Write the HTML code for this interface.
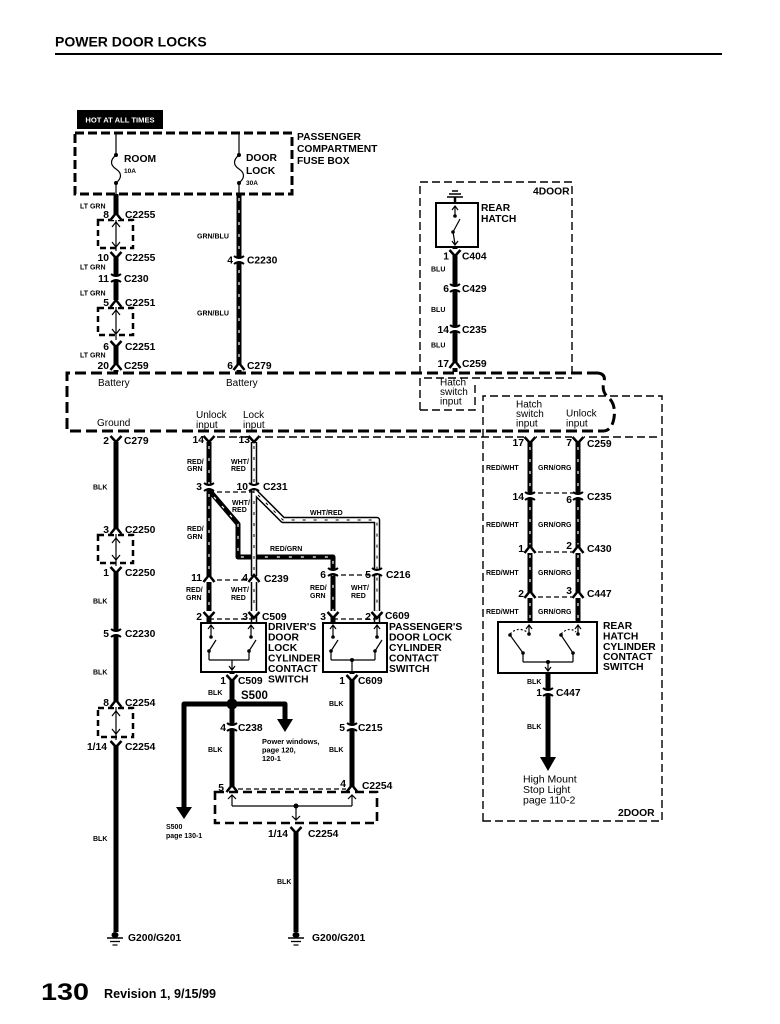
<!DOCTYPE html>
<html><head><meta charset="utf-8">
<style>
html,body{margin:0;padding:0;background:#fff;}
svg{display:block;}
text{font-family:"Liberation Sans",Arial,sans-serif;fill:#000;}
.c{font-size:10.3px;font-weight:bold;}
.wl{font-size:7px;font-weight:bold;}
.n{font-size:10px;}
.w{stroke:#000;stroke-width:5;fill:none;stroke-linejoin:round;}
.wt{stroke:#fff;stroke-width:1.2;stroke-dasharray:3 9;fill:none;}
.wo{stroke:#000;stroke-width:6.5;fill:none;stroke-linejoin:round;}
.wi{stroke:#fff;stroke-width:3.5;fill:none;stroke-linejoin:round;}
.wd{stroke:#000;stroke-width:1;stroke-dasharray:3 8;fill:none;}
.th{stroke:#000;stroke-width:1.2;fill:none;}
.td{stroke:#000;stroke-width:1.4;stroke-dasharray:8 4;fill:none;}
.kd{stroke:#000;stroke-width:3;stroke-dasharray:11 5;fill:none;}
.sd{stroke:#000;stroke-width:2.5;stroke-dasharray:6 4;fill:none;}
.bx{stroke:#000;stroke-width:2;fill:none;}
</style></head>
<body>
<svg width="780" height="1024" viewBox="0 0 780 1024" xmlns="http://www.w3.org/2000/svg">
<defs>
<g id="F"><rect x="-6" y="-1" width="12" height="6" fill="#fff"/><path d="M-5.5,5 L0,-2 L5.5,5" stroke="#000" stroke-width="2.5" fill="none"/></g>
<g id="M"><rect x="-6" y="-6" width="12" height="5" fill="#fff"/><path d="M-5.5,-5 L0,1 L5.5,-5" stroke="#000" stroke-width="2.5" fill="none"/></g>
<g id="C"><rect x="-6" y="-2" width="12" height="4" fill="#fff"/><path d="M-5,-4 Q0,0 5,-4 M-5,4 Q0,0 5,4" stroke="#000" stroke-width="2" fill="none"/></g>
<g id="G"><ellipse cx="0" cy="-2" rx="3.5" ry="3" fill="#000"/><line x1="-8" y1="1" x2="8" y2="1" stroke="#000" stroke-width="1.5"/><line x1="-5" y1="4.5" x2="5" y2="4.5" stroke="#000" stroke-width="1.3"/><line x1="-2.5" y1="8" x2="2.5" y2="8" stroke="#000" stroke-width="1.2"/></g>
</defs>

<!-- header -->
<text x="55" y="46.5" style="font-size:14px;font-weight:bold">POWER DOOR LOCKS</text>
<line x1="55" y1="54" x2="722" y2="54" stroke="#000" stroke-width="2"/>

<!-- HOT AT ALL TIMES -->
<rect x="77" y="110" width="86" height="19" fill="#000"/>
<text x="120" y="122.5" text-anchor="middle" style="font-size:7.6px;font-weight:bold;fill:#fff">HOT AT ALL TIMES</text>

<!-- fuse box -->
<path class="kd" d="M75,133 H292 V194 H75 Z" style="stroke-dasharray:9 4"/>
<line class="th" x1="116" y1="133" x2="116" y2="155"/>
<circle cx="116" cy="155" r="2"/>
<path class="th" d="M116,155 C110,160 110,165 116,169 C122,173 122,178 116,183"/>
<circle cx="116" cy="183" r="2"/>
<line class="th" x1="116" y1="183" x2="116" y2="194"/>
<line class="th" x1="239" y1="133" x2="239" y2="155"/>
<circle cx="239" cy="155" r="2"/>
<path class="th" d="M239,155 C233,160 233,165 239,169 C245,173 245,178 239,183"/>
<circle cx="239" cy="183" r="2"/>
<line class="th" x1="239" y1="183" x2="239" y2="194"/>
<text class="c" x="124" y="162">ROOM</text>
<text x="124" y="173" style="font-size:6.5px;font-weight:bold">10A</text>
<text class="c" x="246" y="161">DOOR</text>
<text class="c" x="246" y="174">LOCK</text>
<text x="246" y="185" style="font-size:6.5px;font-weight:bold">30A</text>
<text class="c" x="297" y="140">PASSENGER</text>
<text class="c" x="297" y="152">COMPARTMENT</text>
<text class="c" x="297" y="164">FUSE BOX</text>

<!-- module dashed box -->
<path class="kd" d="M598,373 H67 V431 H604"/>
<path class="kd" d="M598,373 Q606,374 604,382 Q601,392 609,398 Q616,405 614,418 Q612,430 604,431"/>
<text class="n" x="98" y="386">Battery</text>
<text class="n" x="226" y="386">Battery</text>
<text class="n" x="97" y="426">Ground</text>
<text class="n" x="196" y="418">Unlock</text>
<text class="n" x="196" y="428">input</text>
<text class="n" x="243" y="418">Lock</text>
<text class="n" x="243" y="428">input</text>
<path class="td" d="M217,437 H660"/>

<!-- 4DOOR box -->
<path class="td" d="M420,410 V182 H572 V372"/>
<path class="td" d="M420,410 H475 V381"/>
<path class="td" d="M424,378 H572"/>
<text class="c" x="533" y="194.5">4DOOR</text>
<text class="n" x="440" y="385.5">Hatch</text>
<text class="n" x="440" y="395">switch</text>
<text class="n" x="440" y="404.5">input</text>

<!-- 2DOOR box -->
<path class="td" d="M483,821 V396 H662 V821 Z"/>
<text class="n" x="516" y="407.5">Hatch</text>
<text class="n" x="516" y="417">switch</text>
<text class="n" x="516" y="426.5">input</text>
<text class="n" x="566" y="416.5">Unlock</text>
<text class="n" x="566" y="426.5">input</text>
<text class="c" x="618" y="816">2DOOR</text>

<!-- LT GRN column -->
<rect class="sd" x="98" y="220" width="35" height="28"/>
<rect class="sd" x="98" y="308" width="35" height="27"/>
<line class="w" x1="116" y1="194" x2="116" y2="214"/>
<line class="th" x1="116" y1="216" x2="116" y2="253"/>
<path class="th" d="M112,227 L116,222 L120,227 M112,242 L116,247 L120,242"/>
<line class="w" x1="116" y1="257" x2="116" y2="300"/>
<line class="th" x1="116" y1="304" x2="116" y2="342"/>
<path class="th" d="M112,315 L116,310 L120,315 M112,329 L116,334 L120,329"/>
<line class="w" x1="116" y1="345" x2="116" y2="372"/>
<use href="#F" x="116" y="215"/>
<use href="#M" x="116" y="257"/>
<use href="#C" x="116" y="278"/>
<use href="#F" x="116" y="302"/>
<use href="#M" x="116" y="346"/>
<use href="#F" x="116" y="365"/>
<text class="wl" x="80" y="208.5">LT GRN</text>
<text class="c" x="109" y="218" text-anchor="end">8</text>
<text class="c" x="125" y="218">C2255</text>
<text class="c" x="109" y="261" text-anchor="end">10</text>
<text class="c" x="125" y="261">C2255</text>
<text class="wl" x="80" y="269.5">LT GRN</text>
<text class="c" x="109" y="282" text-anchor="end">11</text>
<text class="c" x="124" y="282">C230</text>
<text class="wl" x="80" y="295.5">LT GRN</text>
<text class="c" x="109" y="306" text-anchor="end">5</text>
<text class="c" x="125" y="306">C2251</text>
<text class="c" x="109" y="350" text-anchor="end">6</text>
<text class="c" x="125" y="350">C2251</text>
<text class="wl" x="80" y="357.5">LT GRN</text>
<text class="c" x="109" y="369" text-anchor="end">20</text>
<text class="c" x="124" y="369">C259</text>

<!-- GRN/BLU -->
<line class="w" x1="239" y1="194" x2="239" y2="372"/>
<line class="wt" x1="239" y1="198" x2="239" y2="360"/>
<use href="#C" x="239" y="260"/>
<use href="#F" x="239" y="365"/>
<text class="wl" x="197" y="238.7">GRN/BLU</text>
<text class="wl" x="197" y="315.7">GRN/BLU</text>
<text class="c" x="233" y="263.7" text-anchor="end">4</text>
<text class="c" x="247" y="263.7">C2230</text>
<text class="c" x="233" y="369" text-anchor="end">6</text>
<text class="c" x="247" y="369">C279</text>

<!-- REAR HATCH (4door) -->
<path d="M452,191 H458 M449,194 H461 M447,197 H463" stroke="#000" stroke-width="1.4"/>
<line x1="455" y1="197" x2="455" y2="203" stroke="#000" stroke-width="2.5"/>
<rect class="bx" x="436" y="203" width="42" height="44"/>
<path class="th" d="M452,210 L455,206 L458,210 M455,206 V216 M453,232 L460,219 M453,232 L455,244 M452,241 L455,245 L458,241"/>
<circle cx="455" cy="216" r="1.8"/>
<circle cx="453" cy="232" r="1.8"/>
<text class="c" x="481" y="211">REAR</text>
<text class="c" x="481" y="222">HATCH</text>
<line class="w" x1="455" y1="247" x2="455" y2="372"/>
<use href="#M" x="455" y="255"/>
<use href="#C" x="455" y="288"/>
<use href="#C" x="455" y="329"/>
<use href="#F" x="455" y="363"/>
<text class="c" x="449" y="259.5" text-anchor="end">1</text>
<text class="c" x="462" y="259.5">C404</text>
<text class="wl" x="431" y="271.5">BLU</text>
<text class="c" x="449" y="292" text-anchor="end">6</text>
<text class="c" x="462" y="292">C429</text>
<text class="wl" x="431" y="312">BLU</text>
<text class="c" x="449" y="333" text-anchor="end">14</text>
<text class="c" x="462" y="333">C235</text>
<text class="wl" x="431" y="347.5">BLU</text>
<text class="c" x="449" y="367" text-anchor="end">17</text>
<text class="c" x="462" y="367">C259</text>

<!-- Ground column BLK -->
<rect class="sd" x="98" y="535" width="35" height="28"/>
<rect class="sd" x="98" y="708" width="35" height="29"/>
<line class="w" x1="116" y1="442" x2="116" y2="528"/>
<line class="th" x1="116" y1="531" x2="116" y2="568"/>
<path class="th" d="M112,543 L116,538 L120,543 M112,555 L116,560 L120,555"/>
<line class="w" x1="116" y1="572" x2="116" y2="701"/>
<line class="th" x1="116" y1="704" x2="116" y2="742"/>
<path class="th" d="M112,716 L116,711 L120,716 M112,729 L116,734 L120,729"/>
<line class="w" x1="116" y1="745" x2="116" y2="932"/>
<use href="#M" x="116" y="441"/>
<use href="#F" x="116" y="529"/>
<use href="#M" x="116" y="572"/>
<use href="#C" x="116" y="633"/>
<use href="#F" x="116" y="702"/>
<use href="#M" x="116" y="746"/>
<use href="#G" x="115" y="937"/>
<text class="c" x="109" y="444" text-anchor="end">2</text>
<text class="c" x="124" y="444">C279</text>
<text class="wl" x="93" y="489.5">BLK</text>
<text class="c" x="109" y="533" text-anchor="end">3</text>
<text class="c" x="125" y="533">C2250</text>
<text class="c" x="109" y="576" text-anchor="end">1</text>
<text class="c" x="125" y="576">C2250</text>
<text class="wl" x="93" y="603.5">BLK</text>
<text class="c" x="109" y="637" text-anchor="end">5</text>
<text class="c" x="125" y="637">C2230</text>
<text class="wl" x="93" y="674.5">BLK</text>
<text class="c" x="109" y="706" text-anchor="end">8</text>
<text class="c" x="125" y="706">C2254</text>
<text class="c" x="107" y="750" text-anchor="end">1/14</text>
<text class="c" x="125" y="750">C2254</text>
<text class="wl" x="93" y="841">BLK</text>
<text class="c" x="128" y="941">G200/G201</text>

<!-- RED/GRN -->
<path class="w" d="M209,442 V623"/>
<path class="w" d="M209,490 L238,524 V557 H333 V623"/>
<path class="wt" d="M209,446 V612"/>
<path class="wt" d="M214,497 L238,524 V557 H333 V612"/>
<!-- WHT/RED -->
<path class="wo" d="M254,442 V623"/>
<path class="wo" d="M254,491 L283,520 H377 V623"/>
<path class="wi" d="M254,443 V623"/>
<path class="wi" d="M254,491 L283,520 H377 V623"/>
<path class="wd" d="M254,446 V612"/>
<path class="wd" d="M258,495 L283,520 H377 V612"/>
<!-- dashed connector ties -->
<path class="th" style="stroke-dasharray:5 3" d="M209,492 H254 M209,580 H254 M333,575 H377 M209,619 H254 M333,619 H377"/>
<use href="#M" x="209" y="441"/>
<use href="#M" x="254" y="441"/>
<use href="#C" x="209" y="487"/>
<use href="#C" x="254" y="487"/>
<use href="#F" x="209" y="577"/>
<use href="#F" x="254" y="577"/>
<use href="#C" x="333" y="572"/>
<use href="#C" x="377" y="572"/>
<use href="#M" x="209" y="617"/>
<use href="#M" x="254" y="617"/>
<use href="#M" x="333" y="617"/>
<use href="#M" x="377" y="617"/>
<text class="c" x="204" y="443" text-anchor="end">14</text>
<text class="c" x="250" y="443" text-anchor="end">13</text>
<text class="wl" x="187" y="464">RED/</text>
<text class="wl" x="187" y="471">GRN</text>
<text class="wl" x="231" y="464">WHT/</text>
<text class="wl" x="231" y="471">RED</text>
<text class="c" x="202" y="490" text-anchor="end">3</text>
<text class="c" x="248" y="490" text-anchor="end">10</text>
<text class="c" x="263" y="490">C231</text>
<text class="wl" x="232" y="505">WHT/</text>
<text class="wl" x="232" y="512">RED</text>
<text class="wl" x="187" y="531">RED/</text>
<text class="wl" x="187" y="539">GRN</text>
<text class="wl" x="310" y="515">WHT/RED</text>
<text class="wl" x="270" y="551">RED/GRN</text>
<text class="c" x="202" y="581" text-anchor="end">11</text>
<text class="c" x="248" y="581" text-anchor="end">4</text>
<text class="c" x="264" y="582">C239</text>
<text class="c" x="326" y="578" text-anchor="end">6</text>
<text class="c" x="371" y="578" text-anchor="end">5</text>
<text class="c" x="386" y="578">C216</text>
<text class="wl" x="186" y="592">RED/</text>
<text class="wl" x="186" y="600">GRN</text>
<text class="wl" x="231" y="592">WHT/</text>
<text class="wl" x="231" y="600">RED</text>
<text class="wl" x="310" y="590">RED/</text>
<text class="wl" x="310" y="598">GRN</text>
<text class="wl" x="351" y="590">WHT/</text>
<text class="wl" x="351" y="598">RED</text>
<text class="c" x="202" y="620" text-anchor="end">2</text>
<text class="c" x="248" y="620" text-anchor="end">3</text>
<text class="c" x="262" y="620">C509</text>
<text class="c" x="326" y="620" text-anchor="end">3</text>
<text class="c" x="371" y="620" text-anchor="end">2</text>
<text class="c" x="385" y="619">C609</text>

<!-- driver's switch -->
<rect class="bx" x="201" y="623" width="65" height="49"/>
<path class="th" d="M208,629 L211,625 L214,629 M211,625 V637 M209,651 L216,640 M209,651 V660 M248,629 L251,625 L254,629 M251,625 V637 M249,651 L256,640 M249,651 V660 M209,660 H249 M232,660 V670 M229,666 L232,670 L235,666"/>
<circle cx="211" cy="637" r="1.8"/><circle cx="209" cy="651" r="1.8"/>
<circle cx="251" cy="637" r="1.8"/><circle cx="249" cy="651" r="1.8"/>
<text class="c" x="268" y="630">DRIVER'S</text>
<text class="c" x="268" y="640.5">DOOR</text>
<text class="c" x="268" y="651">LOCK</text>
<text class="c" x="268" y="661.5">CYLINDER</text>
<text class="c" x="268" y="672">CONTACT</text>
<text class="c" x="268" y="682.5">SWITCH</text>

<!-- passenger's switch -->
<rect class="bx" x="323" y="623" width="64" height="49"/>
<path class="th" d="M330,629 L333,625 L336,629 M333,625 V637 M331,651 L338,640 M331,651 V660 M374,629 L377,625 L380,629 M377,625 V637 M375,651 L382,640 M375,651 V660 M331,660 H375 M352,660 V672"/>
<circle cx="333" cy="637" r="1.8"/><circle cx="331" cy="651" r="1.8"/>
<circle cx="377" cy="637" r="1.8"/><circle cx="375" cy="651" r="1.8"/>
<circle cx="352" cy="660" r="2"/>
<text class="c" x="389" y="630">PASSENGER'S</text>
<text class="c" x="389" y="640.5">DOOR LOCK</text>
<text class="c" x="389" y="651">CYLINDER</text>
<text class="c" x="389" y="661.5">CONTACT</text>
<text class="c" x="389" y="672">SWITCH</text>

<!-- below driver's -->
<line class="w" x1="232" y1="672" x2="232" y2="786"/>
<path class="w" d="M232,704 H184 V810"/>
<polygon points="176,807 192,807 184,819" fill="#000"/>
<path class="w" d="M232,704 H285 V721"/>
<polygon points="277,719 293,719 285,732" fill="#000"/>
<circle cx="232" cy="704" r="5.5" fill="#000"/>
<use href="#M" x="232" y="680"/>
<use href="#C" x="232" y="727"/>
<use href="#F" x="232" y="787"/>
<text class="c" x="226" y="684" text-anchor="end">1</text>
<text class="c" x="238" y="684">C509</text>
<text class="wl" x="208" y="695">BLK</text>
<text x="241" y="699" style="font-size:11.5px;font-weight:bold">S500</text>
<text class="c" x="226" y="731" text-anchor="end">4</text>
<text class="c" x="238" y="731">C238</text>
<text class="wl" x="208" y="752">BLK</text>
<text x="262" y="744" style="font-size:7.4px;font-weight:bold">Power windows,</text>
<text x="262" y="752.5" style="font-size:7.4px;font-weight:bold">page 120,</text>
<text x="262" y="761" style="font-size:7.4px;font-weight:bold">120-1</text>
<text class="wl" x="166" y="829">S500</text>
<text class="wl" x="166" y="838">page 130-1</text>

<!-- below passenger's -->
<line class="w" x1="352" y1="672" x2="352" y2="786"/>
<use href="#M" x="352" y="680"/>
<use href="#C" x="352" y="727"/>
<use href="#F" x="352" y="787"/>
<text class="c" x="345" y="684" text-anchor="end">1</text>
<text class="c" x="358" y="684">C609</text>
<text class="wl" x="329" y="706">BLK</text>
<text class="c" x="345" y="731" text-anchor="end">5</text>
<text class="c" x="358" y="731">C215</text>
<text class="wl" x="329" y="752">BLK</text>

<!-- C2254 box -->
<path class="th" style="stroke-dasharray:5 3" d="M238,789 H346"/>
<rect class="kd" x="215" y="792" width="162" height="31" style="stroke-width:2.6;stroke-dasharray:9 5"/>
<path class="th" d="M228,799 L232,795 L236,799 M232,795 V806 M348,799 L352,795 L356,799 M352,795 V806 M232,806 H352 M296,806 V820 M292,816 L296,820 L300,816"/>
<circle cx="296" cy="806" r="2.5"/>
<text class="c" x="224" y="791" text-anchor="end">5</text>
<text class="c" x="346" y="787" text-anchor="end">4</text>
<text class="c" x="362" y="789">C2254</text>
<line class="w" x1="296" y1="832" x2="296" y2="932"/>
<use href="#M" x="296" y="832"/>
<text class="c" x="288" y="837" text-anchor="end">1/14</text>
<text class="c" x="308" y="837">C2254</text>
<text class="wl" x="277" y="884">BLK</text>
<use href="#G" x="296" y="937"/>
<text class="c" x="312" y="941">G200/G201</text>

<!-- right column -->
<line class="w" x1="530" y1="442" x2="530" y2="623"/>
<line class="w" x1="578" y1="442" x2="578" y2="623"/>
<line class="wt" x1="530" y1="447" x2="530" y2="618"/>
<line class="wt" x1="578" y1="447" x2="578" y2="618"/>
<path class="th" style="stroke-dasharray:5 3" d="M530,493 H578 M530,552 H578 M530,597 H578"/>
<use href="#M" x="530" y="442"/>
<use href="#M" x="578" y="442"/>
<use href="#C" x="530" y="496"/>
<use href="#C" x="578" y="496"/>
<use href="#F" x="530" y="548"/>
<use href="#F" x="578" y="548"/>
<use href="#F" x="530" y="593"/>
<use href="#F" x="578" y="593"/>
<text class="c" x="524" y="446" text-anchor="end">17</text>
<text class="c" x="572" y="446" text-anchor="end">7</text>
<text class="c" x="587" y="447">C259</text>
<text class="wl" x="486" y="470">RED/WHT</text>
<text class="wl" x="538" y="470">GRN/ORG</text>
<text class="c" x="524" y="500" text-anchor="end">14</text>
<text class="c" x="572" y="503" text-anchor="end">6</text>
<text class="c" x="587" y="500">C235</text>
<text class="wl" x="486" y="527">RED/WHT</text>
<text class="wl" x="538" y="527">GRN/ORG</text>
<text class="c" x="524" y="552" text-anchor="end">1</text>
<text class="c" x="572" y="549" text-anchor="end">2</text>
<text class="c" x="587" y="552">C430</text>
<text class="wl" x="486" y="575">RED/WHT</text>
<text class="wl" x="538" y="575">GRN/ORG</text>
<text class="c" x="524" y="597" text-anchor="end">2</text>
<text class="c" x="572" y="594" text-anchor="end">3</text>
<text class="c" x="587" y="597">C447</text>
<text class="wl" x="486" y="614">RED/WHT</text>
<text class="wl" x="538" y="614">GRN/ORG</text>

<!-- rear hatch cylinder switch -->
<rect class="bx" x="498" y="622" width="99" height="51"/>
<path class="th" d="M526,629 L529,625 L532,629 M529,625 V634 M510,635 L523,653 M523,653 V662 M575,629 L578,625 L581,629 M578,625 V634 M561,635 L573,653 M573,653 V662 M523,662 H573 M548,662 V671 M545,667 L548,671 L551,667"/>
<path class="th" style="stroke-dasharray:2 2" d="M510,634 Q518,626 527,632 M561,634 Q569,626 576,632"/>
<circle cx="529" cy="634" r="1.8"/><circle cx="510" cy="635" r="1.8"/><circle cx="523" cy="653" r="1.8"/>
<circle cx="578" cy="634" r="1.8"/><circle cx="561" cy="635" r="1.8"/><circle cx="573" cy="653" r="1.8"/>
<circle cx="548" cy="662" r="2"/>
<text class="c" x="603" y="629">REAR</text>
<text class="c" x="603" y="639.5">HATCH</text>
<text class="c" x="603" y="650">CYLINDER</text>
<text class="c" x="603" y="660">CONTACT</text>
<text class="c" x="603" y="670">SWITCH</text>
<line class="w" x1="548" y1="673" x2="548" y2="759"/>
<polygon points="540,757 556,757 548,771" fill="#000"/>
<use href="#C" x="548" y="692"/>
<text class="wl" x="527" y="684">BLK</text>
<text class="c" x="542" y="696" text-anchor="end">1</text>
<text class="c" x="556" y="696">C447</text>
<text class="wl" x="527" y="729">BLK</text>
<text style="font-size:10.5px" x="523" y="782.5">High Mount</text>
<text style="font-size:10.5px" x="523" y="793">Stop Light</text>
<text style="font-size:10.5px" x="523" y="803.5">page 110-2</text>

<!-- footer -->
<text x="41" y="1000" textLength="48" lengthAdjust="spacingAndGlyphs" style="font-size:24px;font-weight:bold">130</text>
<text x="104" y="998" style="font-size:12.6px;font-weight:bold">Revision 1, 9/15/99</text>
</svg>
</body></html>
